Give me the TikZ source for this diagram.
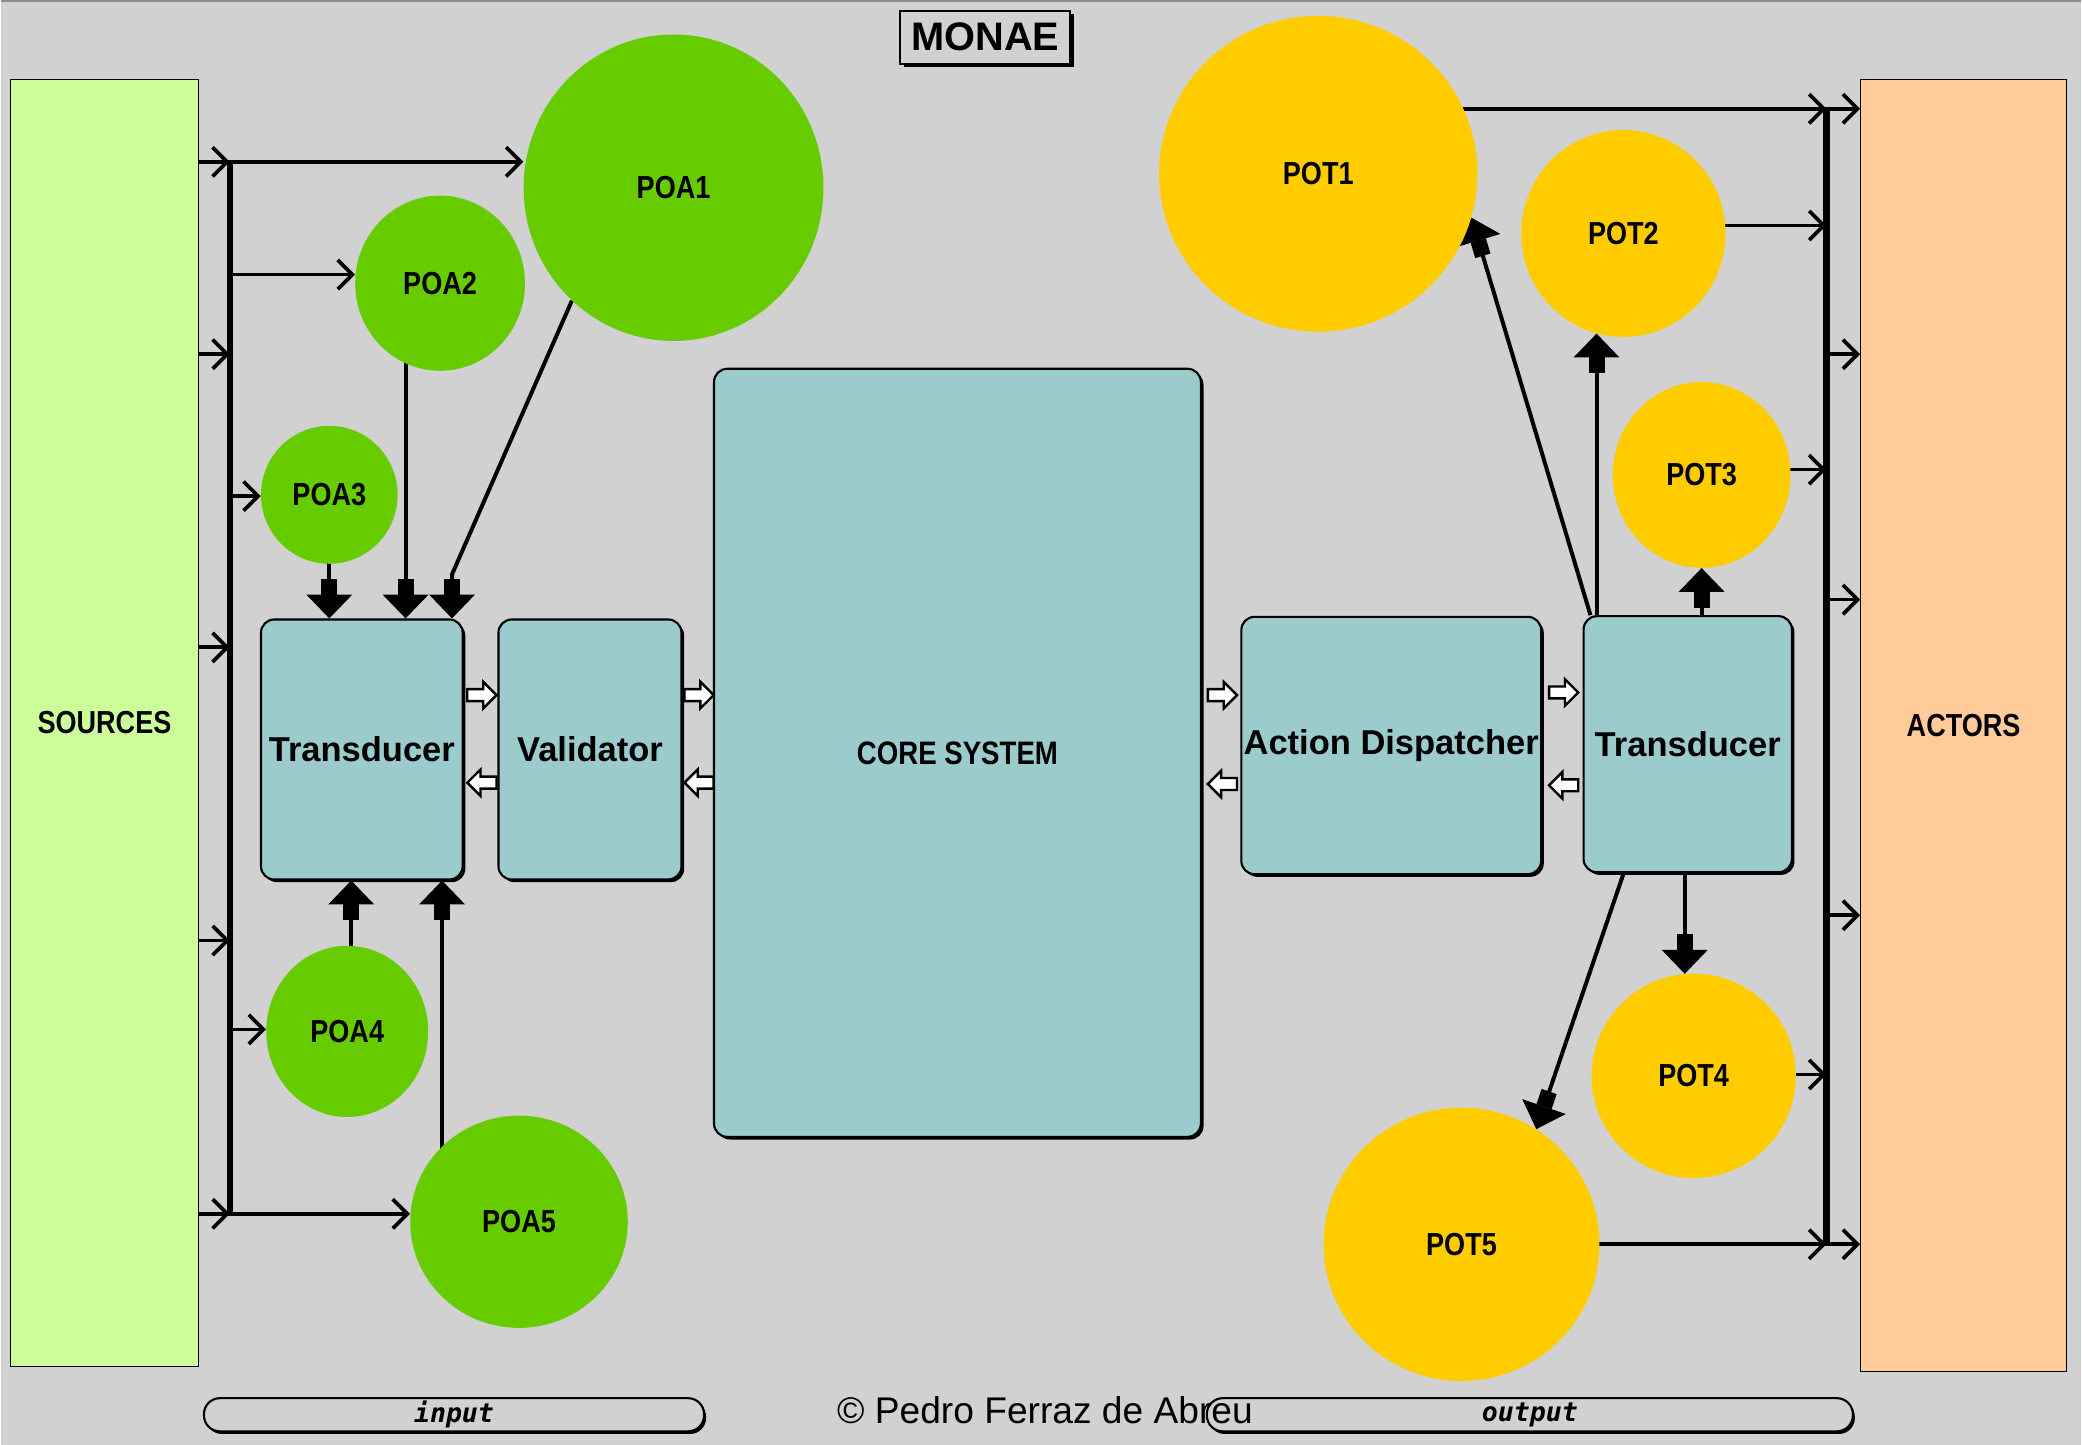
\documentclass[tikz,border=0pt]{standalone}
\usepackage{fontspec}
\setmainfont{Liberation Sans}
\newfontfamily\capsf[FakeStretch=0.85]{Liberation Sans Bold}
\newfontfamily\mixf{Liberation Sans Bold}
\newfontfamily\pillf{DejaVu Sans Mono Bold Oblique}
\usetikzlibrary{arrows.meta,shapes.geometric,shadows,calc}
\pgfdeclarelayer{bgfill}
\pgfdeclarelayer{conn}
\pgfsetlayers{bgfill,conn,main}
\definecolor{bgc}{HTML}{D1D1D1}
\definecolor{srcc}{HTML}{CCFF99}
\definecolor{actc}{HTML}{FFCC99}
\definecolor{greenc}{HTML}{66CC00}
\definecolor{yellowc}{HTML}{FFCC00}
\definecolor{boxc}{HTML}{9CCBCD}
\tikzset{
  capsfont/.style={font=\capsf\fontsize{24pt}{28pt}\selectfont},
  box/.style={draw=black, line width=1.6pt, fill=boxc, rounded corners=10pt, inner sep=0pt,
    general shadow={fill=black, shadow xshift=2pt, shadow yshift=-2pt},
    font=\mixf\fontsize{26pt}{30pt}\selectfont},
  poa/.style={ellipse, fill=greenc, inner sep=0pt, capsfont},
  pot/.style={ellipse, fill=yellowc, inner sep=0pt, capsfont},
  panel/.style={draw=black, line width=1pt, inner sep=0pt, capsfont},
  pill/.style={draw=black, line width=1.6pt, fill=bgc, rounded corners=12pt, inner sep=0pt,
    minimum height=25pt, general shadow={fill=black, shadow xshift=1.5pt, shadow yshift=-2pt},
    font=\pillf\fontsize{20pt}{24pt}\selectfont},
  titlebox/.style={draw=black, line width=1.6pt, fill=bgc, inner sep=0pt,
    minimum width=128pt, minimum height=40pt,
    general shadow={fill=black, shadow xshift=2.5pt, shadow yshift=-2.5pt},
    font=\mixf\fontsize{30pt}{34pt}\selectfont},
  barb/.style={line width=2.8pt, -{Straight Barb[length=11pt,width=22pt]}},
  bus/.style={line width=5pt, shorten <=-1.4pt, shorten >=-1.4pt},
  fat/.style={line width=3pt, line join=round,
    -{Rectangle[width=12pt,length=12pt,sep=0pt]Triangle[width=34pt,length=18pt]}},
  hollowR/.pic={\draw[line width=1.8pt, fill=white, line join=miter]
    (-11,-4.5) -- (1,-4.5) -- (1,-10) -- (11,0) -- (1,10) -- (1,4.5) -- (-11,4.5) -- cycle;},
  hollowL/.pic={\draw[line width=1.8pt, fill=white, line join=miter]
    (11,-4.5) -- (-1,-4.5) -- (-1,-10) -- (-11,0) -- (-1,10) -- (-1,4.5) -- (11,4.5) -- cycle;}
}
\begin{document}
\begin{tikzpicture}[x=1pt,y=-1pt]
\begin{pgfonlayer}{bgfill}
  \fill[bgc] (0,0) rectangle (1568,1089);
  \draw[black!45, line width=1.5pt] (0,1) -- (1568,1);
\end{pgfonlayer}
\useasboundingbox (0,0) rectangle (1568,1089);

% title
\node[titlebox] (title) at (742,28) {MONAE};

% side panels
\node[panel, fill=srcc, minimum width=142pt, minimum height=970pt] (src) at (78,545) {SOURCES};
\node[panel, fill=actc, minimum width=155pt, minimum height=974pt] (act) at (1479.5,547) {ACTORS};

% POA circles
\node[poa, minimum width=226pt, minimum height=231pt] (POA1) at (507,141.5) {POA1};
\node[poa, minimum width=128pt, minimum height=132pt] (POA2) at (331,213.5) {POA2};
\node[poa, minimum width=103pt, minimum height=104pt] (POA3) at (247.5,373) {POA3};
\node[poa, minimum width=122pt, minimum height=129pt] (POA4) at (261,777.5) {POA4};
\node[poa, minimum width=164pt, minimum height=160pt] (POA5) at (390.5,921) {POA5};

% POT circles
\node[pot, minimum width=240pt, minimum height=238pt] (POT1) at (993,131) {POT1};
\node[pot, minimum width=154pt, minimum height=156pt] (POT2) at (1223,176) {POT2};
\node[pot, minimum width=134pt, minimum height=140pt] (POT3) at (1282,358) {POT3};
\node[pot, minimum width=154pt, minimum height=154pt] (POT4) at (1276,811) {POT4};
\node[pot, minimum width=208pt, minimum height=206pt] (POT5) at (1101,938) {POT5};

% boxes
\node[box, minimum width=152pt, minimum height=196pt] (T1) at (272,565) {Transducer};
\node[box, minimum width=138pt, minimum height=196pt] (V) at (444,565) {Validator};
\node[box, minimum width=367pt, minimum height=579pt, font=\capsf\fontsize{24.5pt}{28pt}\selectfont] (core) at (721,567.5) {CORE SYSTEM};
\node[box, minimum width=226pt, minimum height=194pt] (AD) at (1048,562) {Action Dispatcher};
\node[box, minimum width=157pt, minimum height=193pt] (T2) at (1271.5,561) {Transducer};

% pills
\node[pill, minimum width=377pt] (inp) at (341.5,1066.5) {input};
\node[pill, minimum width=487pt] (outp) at (1152.5,1066.5) {output};
\node[anchor=base, inner sep=0pt, font=\fontsize{28pt}{32pt}\selectfont] (copy) at (787,1073) {© Pedro Ferraz de Abreu};

% hollow arrows between boxes
\path (T1.east) -- (V.west) coordinate[midway] (g1);
\path (V.east) -- (core.west) coordinate[midway] (g2);
\path (core.east) -- (AD.west) coordinate[midway] (g3);
\path (AD.east) -- (T2.west) coordinate[midway] (g4);
\pic at ([xshift=1pt]g1 |- 0,524) {hollowR};
\pic at ([xshift=1pt]g1 |- 0,590) {hollowL};
\pic at ([xshift=1pt]g2 |- 0,524) {hollowR};
\pic at ([xshift=1pt]g2 |- 0,590) {hollowL};
\pic at ([xshift=1pt]g3 |- 0,524) {hollowR};
\pic at ([xshift=1pt]g3 |- 0,591) {hollowL};
\pic at ([xshift=1pt]g4 |- 0,522) {hollowR};
\pic at ([xshift=1pt]g4 |- 0,592) {hollowL};

\begin{pgfonlayer}{conn}
  % left bus
  \coordinate (lbt) at (172.5,122);
  \coordinate (lbb) at (172.5,915);
  \draw[bus] (lbt) -- (lbb);
  \foreach \yy in {122,267,488,709,915}
    \draw[barb] (src.east |- 0,\yy) -- (lbt |- 0,\yy);
  \draw[barb] (lbt) -- (POA1.west |- lbt);
  \draw[barb] (lbt |- 0,207) -- (POA2.west |- 0,207);
  \draw[barb] (lbt |- 0,374) -- (POA3.west |- 0,374);
  \draw[barb] (lbt |- 0,776) -- (POA4.west |- 0,776);
  \draw[barb] (lbb) -- (POA5.west |- lbb);

  % fat arrows into left transducer
  \coordinate (p2) at (305,0);
  \coordinate (a1) at (340,433);
  \coordinate (p4) at (264,0);
  \coordinate (p5) at (332.5,0);
  \draw[fat] (POA3.center) -- (POA3.center |- T1.north);
  \draw[fat] (POA2.center -| p2) -- (T1.north -| p2);
  \draw[fat] (POA1.228) -- (a1) -- (T1.north -| a1);
  \draw[fat] (POA4.center -| p4) -- (T1.south -| p4);
  \draw[fat] (POA5.center -| p5) -- (T1.south -| p5);

  % fat arrows out of right transducer
  \draw[fat] ($(T2.north west)+(6,0)$) -- (POT1.-16);
  \draw[fat] (T2.north -| POT2.-105) -- (POT2.-105);
  \draw[fat] (T2.north -| POT3.south) -- (POT3.south);
  \draw[fat] (T2.south -| POT4.95) -- (POT4.95);
  \draw[fat] ($(T2.south west)+(31,0)$) -- (POT5.57);

  % right bus
  \coordinate (rbt) at (1376,82);
  \coordinate (rbb) at (1376,938);
  \draw[bus] (rbt) -- (rbb);
  \draw[barb] (POT1.center |- rbt) -- (rbt);
  \draw[barb] (POT2.center |- 0,170) -- (rbt |- 0,170);
  \draw[barb] (POT3.center |- 0,354) -- (rbt |- 0,354);
  \draw[barb] (POT4.center |- 0,810) -- (rbt |- 0,810);
  \draw[barb] (POT5.center) -- (rbb);
  \foreach \yy in {82,267,452,690,938}
    \draw[barb] (rbt |- 0,\yy) -- (act.west |- 0,\yy);
\end{pgfonlayer}
\end{tikzpicture}
\end{document}
